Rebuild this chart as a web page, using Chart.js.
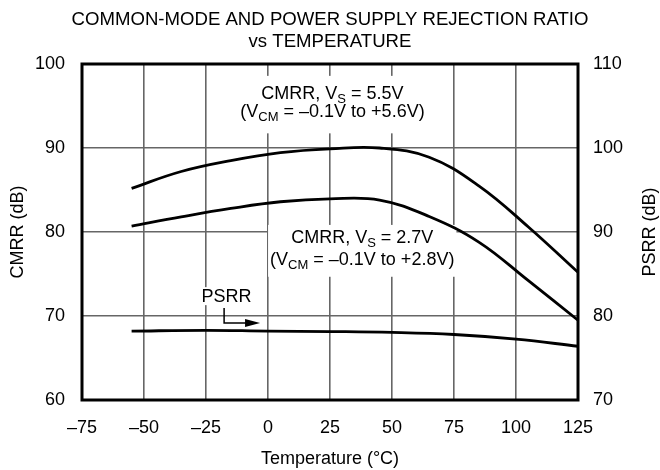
<!DOCTYPE html>
<html>
<head>
<meta charset="utf-8">
<script src="https://cdn.jsdelivr.net/npm/chart.js@4.4.1/dist/chart.umd.min.js"></script>
<style>
  html, body { margin: 0; background: #fff; }
  #wrap { width: 660px; height: 470px; }
</style>
</head>
<body>
<div id="wrap"><canvas id="chart"></canvas></div>
<script>
// Values, in °C and dB.
var temps = [-55, -35, -15, 5, 25, 45, 65, 85, 105, 125];
var cmrr55 = [85.2, 87.2, 88.5, 89.45, 89.9, 90.0, 88.9, 85.5, 80.6, 75.2];
var cmrr27 = [80.7, 81.8, 82.8, 83.6, 83.95, 83.8, 81.85, 78.8, 74.2, 69.5];

var psrrTemps = [-55, -25, 0, 25, 50, 75, 100, 125];
var psrr = [78.2, 78.3, 78.2, 78.15, 78.05, 77.8, 77.25, 76.4];

var xTicks = [-75, -50, -25, 0, 25, 50, 75, 100, 125];
var cmrrTicks = [60, 70, 80, 90, 100];
var psrrTicks = [70, 80, 90, 100, 110];

var FONT = "'Liberation Sans', Arial, Helvetica, sans-serif";
var MINUS = "\u2013";

function pts(xs, ys) {
  return xs.map(function (x, i) { return { x: x, y: ys[i] }; });
}

// Text made of runs, some of them subscripts; returns its width.
function runsWidth(ctx, runs) {
  var w = 0;
  runs.forEach(function (r) {
    ctx.font = (r.sub ? "13px " : "18px ") + FONT;
    w += ctx.measureText(r.t).width;
  });
  return w;
}
function drawRuns(ctx, runs, cx, base) {
  var x = cx - runsWidth(ctx, runs) / 2;
  ctx.textAlign = "left";
  ctx.textBaseline = "alphabetic";
  runs.forEach(function (r) {
    ctx.font = (r.sub ? "13px " : "18px ") + FONT;
    ctx.fillText(r.t, x, base + (r.sub ? 4 : 0));
    x += ctx.measureText(r.t).width;
  });
}

// Curve labels, anchored in data units (°C, CMRR dB).
var labels = [
  {
    x: 26, y1: 95.85, y2: 93.65, pad: { x: 4, top: 23, bottom: 16 },
    lines: [
      [{ t: "CMRR, V" }, { t: "S", sub: true }, { t: " = 5.5V" }],
      [{ t: "(V" }, { t: "CM", sub: true }, { t: " = " + MINUS + "0.1V to +5.6V)" }],
    ],
  },
  {
    x: 38, y1: 78.7, y2: 76.1, pad: { x: 2, top: 18, bottom: 12 },
    lines: [
      [{ t: "CMRR, V" }, { t: "S", sub: true }, { t: " = 2.7V" }],
      [{ t: "(V" }, { t: "CM", sub: true }, { t: " = " + MINUS + "0.1V to +2.8V)" }],
    ],
  },
];
var psrrLabel = { text: "PSRR", x: -16.7, y: 71.65, arrowX: -17.7, arrowTop: 70.95, arrowY: 69.17, tipX: -3.2 };

var annotations = {
  id: "annotations",
  beforeDatasetsDraw: function (chart) {
    var ctx = chart.ctx, sx = chart.scales.x, sy = chart.scales.y;
    ctx.save();
    ctx.fillStyle = "#000";
    labels.forEach(function (l) {
      var cx = sx.getPixelForValue(l.x);
      var b1 = sy.getPixelForValue(l.y1);
      var b2 = sy.getPixelForValue(l.y2);
      var w = Math.max(runsWidth(ctx, l.lines[0]), runsWidth(ctx, l.lines[1]));
      ctx.fillStyle = "#fff";
      ctx.fillRect(cx - w / 2 - l.pad.x, b1 - l.pad.top, w + 2 * l.pad.x, b2 - b1 + l.pad.top + l.pad.bottom);
      ctx.fillStyle = "#000";
      drawRuns(ctx, l.lines[0], cx, b1);
      drawRuns(ctx, l.lines[1], cx, b2);
    });

    // PSRR label with its bent arrow
    var px = sx.getPixelForValue(psrrLabel.x);
    var pb = sy.getPixelForValue(psrrLabel.y);
    ctx.font = "18px " + FONT;
    var pw = ctx.measureText(psrrLabel.text).width;
    ctx.fillStyle = "#fff";
    ctx.fillRect(px - pw / 2 - 3, pb - 15, pw + 6, 18);
    ctx.fillStyle = "#000";
    ctx.textAlign = "center";
    ctx.textBaseline = "alphabetic";
    ctx.fillText(psrrLabel.text, px, pb);

    var ax = sx.getPixelForValue(psrrLabel.arrowX);
    var at = sy.getPixelForValue(psrrLabel.arrowTop);
    var ay = sy.getPixelForValue(psrrLabel.arrowY);
    var tip = sx.getPixelForValue(psrrLabel.tipX);
    ctx.strokeStyle = "#000";
    ctx.lineWidth = 1.5;
    ctx.beginPath();
    ctx.moveTo(ax, at);
    ctx.lineTo(ax, ay);
    ctx.lineTo(tip - 14, ay);
    ctx.stroke();
    ctx.beginPath();
    ctx.moveTo(tip, ay);
    ctx.lineTo(tip - 15, ay - 4);
    ctx.lineTo(tip - 15, ay + 4);
    ctx.closePath();
    ctx.fill();
    ctx.restore();
  },
  afterDatasetsDraw: function (chart) {
    var ctx = chart.ctx, a = chart.chartArea;
    ctx.save();
    ctx.strokeStyle = "#000";
    ctx.lineWidth = 3;
    ctx.strokeRect(a.left, a.top, a.right - a.left, a.bottom - a.top);
    ctx.restore();
  },
  afterDraw: function (chart) {
    var ctx = chart.ctx, a = chart.chartArea;
    var midY = (a.top + a.bottom) / 2;
    ctx.save();
    ctx.fillStyle = "#000";
    ctx.textAlign = "center";
    ctx.textBaseline = "alphabetic";
    ctx.font = "18.6px " + FONT;
    ctx.fillText("COMMON-MODE AND POWER SUPPLY REJECTION RATIO", 330, 25);
    ctx.fillText("vs TEMPERATURE", 330, 47);
    ctx.font = "18px " + FONT;
    ctx.fillText("Temperature (\u00B0C)", (a.left + a.right) / 2, 464);

    ctx.textBaseline = "middle";
    ctx.save();
    ctx.translate(18, midY);
    ctx.rotate(-Math.PI / 2);
    ctx.fillText("CMRR (dB)", 0, 0);
    ctx.restore();
    ctx.save();
    ctx.translate(650, midY);
    ctx.rotate(-Math.PI / 2);
    ctx.fillText("PSRR (dB)", 0, 0);
    ctx.restore();
    ctx.restore();
  },
};

function line(data, axis) {
  return {
    data: data,
    yAxisID: axis,
    borderColor: "#000",
    borderWidth: 2.8,
    pointRadius: 0,
    fill: false,
    tension: 0.4,
  };
}

function fixedTicks(list) {
  return function (scale) {
    scale.ticks = list.map(function (v) { return { value: v }; });
  };
}

new Chart(document.getElementById("chart"), {
  type: "line",
  data: {
    datasets: [
      line(pts(temps, cmrr55), "y"),
      line(pts(temps, cmrr27), "y"),
      line(pts(psrrTemps, psrr), "y2"),
    ],
  },
  options: {
    responsive: true,
    maintainAspectRatio: false,
    animation: false,
    events: [],
    layout: { padding: { top: 64, left: 0, right: 0, bottom: 0 } },
    plugins: { legend: { display: false }, title: { display: false }, tooltip: { enabled: false } },
    scales: {
      x: {
        type: "linear",
        min: -75,
        max: 125,
        afterBuildTicks: fixedTicks(xTicks),
        afterFit: function (s) { s.height = 70; },
        border: { display: false },
        grid: { color: "#666", lineWidth: 1.6, drawTicks: false },
        ticks: {
          padding: 17,
          color: "#000",
          font: { family: FONT, size: 18 },
          callback: function (v) { return String(v).replace("-", MINUS); },
        },
      },
      y: {
        position: "left",
        min: 60,
        max: 100,
        afterBuildTicks: fixedTicks(cmrrTicks),
        afterFit: function (s) { s.width = 82; },
        border: { display: false },
        grid: { color: "#666", lineWidth: 1.6, drawTicks: false },
        ticks: { padding: 17, color: "#000", font: { family: FONT, size: 18 } },
      },
      y2: {
        position: "right",
        min: 70,
        max: 110,
        afterBuildTicks: fixedTicks(psrrTicks),
        afterFit: function (s) { s.width = 82; },
        border: { display: false },
        grid: { display: false, drawTicks: false },
        ticks: { padding: 15, color: "#000", font: { family: FONT, size: 18 } },
      },
    },
  },
  plugins: [annotations],
});
</script>
</body>
</html>
